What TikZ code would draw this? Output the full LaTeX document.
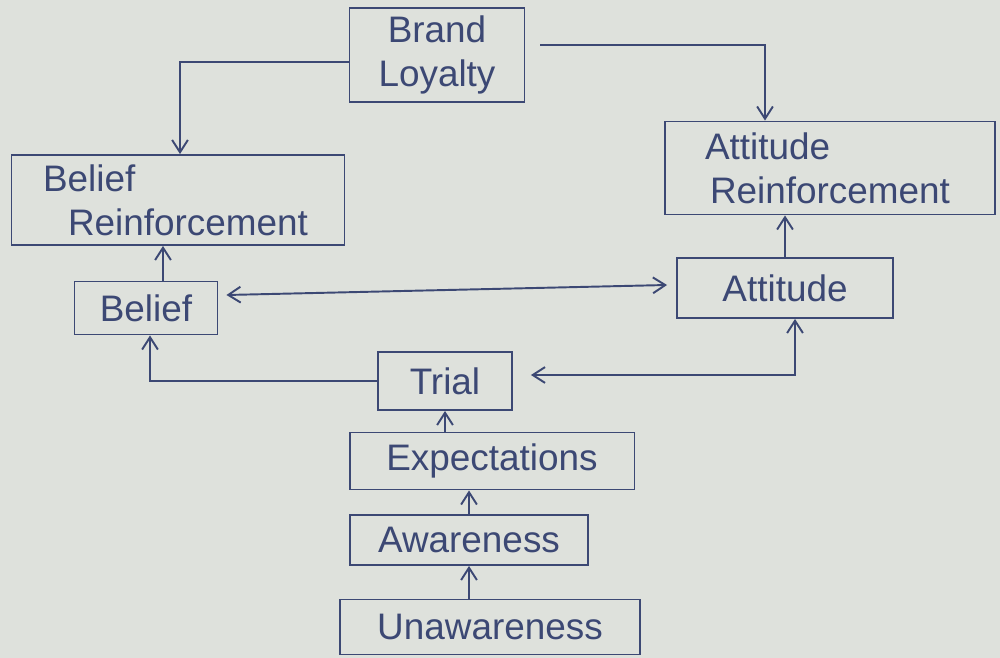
\documentclass[tikz,border=0pt]{standalone}
\usepackage{fontspec}
\setmainfont{Liberation Sans}
\usepackage{tikz}
\usetikzlibrary{arrows.meta}
\definecolor{paper}{RGB}{222, 225, 220}
\definecolor{ink}{RGB}{60, 72, 116}

\begin{document}
\begin{tikzpicture}[
      x=0.02cm, y=-0.02cm,
      box/.style={draw=ink, line width=1.1pt, inner sep=4pt,
                  font=\fontsize{21}{25}\selectfont, text=ink, anchor=center},
      twoline/.style={box, align=left, text width=#1},
      link/.style={draw=ink, line width=1.1pt,
                   -{Straight Barb[length=7pt, width=9pt]}},
      dlink/.style={link, {Straight Barb[length=7pt, width=9pt]}-{Straight Barb[length=7pt, width=9pt]}},
    ]
    %% paper
    \fill[paper] (0,0) rectangle (1000,658);
    \useasboundingbox (0,0) rectangle (1000,658);
    %% top row
    \node[box, align=center, minimum width=3.5cm, minimum height=1.88cm] (loyal) at (437,55) {Brand\\Loyalty};
    %% reinforcement boxes
    \node[twoline=5.4cm, minimum width=6.66cm, minimum height=1.8cm] (breinf) at (178,200) {Belief\\\hspace*{0.5cm}Reinforcement};
    \node[twoline=5.6cm, minimum width=6.6cm, minimum height=1.86cm] (areinf) at (830,168) {\hspace*{0.3cm}Attitude\\\hspace*{0.4cm}Reinforcement};
    %% middle row
    \node[box, minimum width=2.86cm, minimum height=1.06cm] (belief) at (146,308) {Belief};
    \node[box, minimum width=4.32cm, minimum height=1.2cm] (attit) at (785,288) {Attitude};
    %% stack
    \node[box, minimum width=2.68cm, minimum height=1.16cm] (trial) at (445,381) {Trial};
    \node[box, minimum width=5.7cm, minimum height=1.14cm] (expect) at (492,461) {Expectations};
    \node[box, minimum width=4.76cm, minimum height=1.0cm] (aware) at (469,540) {Awareness};
    \node[box, minimum width=6.0cm, minimum height=1.1cm] (unaware) at (490,627) {Unawareness};
    %% loyalty feeds both reinforcements
    \draw[link] ([shift={(0,7)}]loyal.west) -| ([shift={(2,0)}]breinf.north);
    \draw[link] ([shift={(15,-10)}]loyal.east) -| ([shift={(-65,0)}]areinf.north);
    %% belief / attitude up to reinforcement
    \draw[link] ([shift={(17,0)}]belief.north) -- ([shift={(17,0)}]belief.north |- breinf.south);
    \draw[link] (attit.north) -- (attit.north |- areinf.south);
    %% belief <-> attitude
    \draw[dlink] ([shift={(8,-13)}]belief.east) -- ([shift={(-9,-3)}]attit.west);
    %% trial to belief and attitude
    \draw[link] (trial.west) -| ([shift={(4,0)}]belief.south);
    \draw[dlink] ([shift={(18,-6)}]trial.east) -| ([shift={(10,0)}]attit.south);
    %% bottom chain
    \draw[link] (trial.south |- expect.north) -- (trial.south);
    \draw[link] (aware.north) -- (aware.north |- expect.south);
    \draw[link] (aware.south |- unaware.north) -- (aware.south);
\end{tikzpicture}
\end{document}
